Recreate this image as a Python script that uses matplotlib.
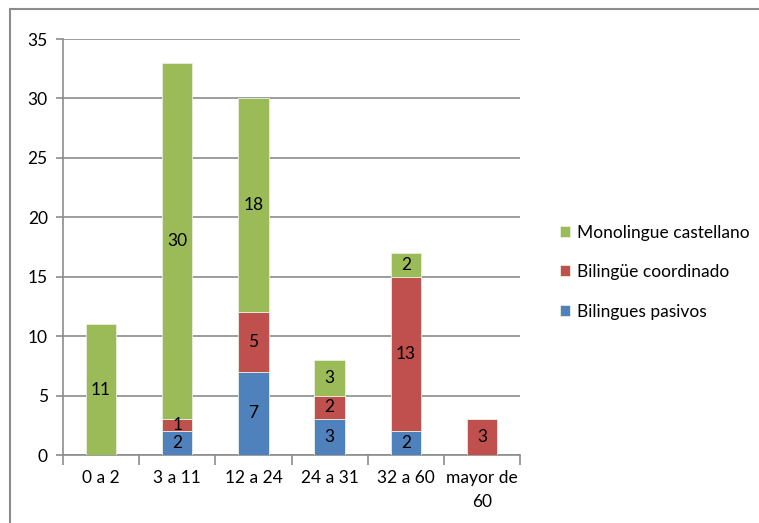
import numpy as np
import matplotlib as mpl
mpl.use('Agg')
from matplotlib import pyplot as plt
from matplotlib.patches import Rectangle

categories = ["0 a 2", "3 a 11", "12 a 24", "24 a 31", "32 a 60", "mayor de\n60"]
pasivos = [0, 2, 7, 3, 2, 0]
coordinado = [0, 1, 5, 2, 13, 3]
monolingue = [11, 30, 18, 3, 2, 0]

names = ["Bilingues pasivos", "Bilingüe coordinado", "Monolingue castellano"]
colors = ["#4F81BD", "#C0504D", "#9BBB59"]

plt.rcParams['font.family'] = ['Lato', 'DejaVu Sans']
W, H = 759, 523
fs = 12.5
fig = plt.figure(figsize=(W / 100, H / 100), dpi=100)
fig.patches.append(Rectangle((10 / W, -0.01), 1.0, 1 - 9 / H + 0.01,
                             transform=fig.transFigure, fill=False,
                             edgecolor="#8c8c8c", linewidth=1.5))

ax = fig.add_axes([63 / W, 1 - 455 / H, (520 - 63) / W, (455 - 39) / H])
x = np.arange(len(categories))
bottom = np.zeros(len(categories))
handles = []
for vals, name, col in zip([pasivos, coordinado, monolingue], names, colors):
    vals = np.array(vals, dtype=float)
    bars = ax.bar(x, vals, 0.4, bottom=bottom, color=col, edgecolor="#e8eedf",
                  linewidth=0.6, label=name, zorder=3)
    handles.append(bars)
    for xi, b, v in zip(x, bottom, vals):
        if v > 0:
            ax.text(xi, b + v / 2, "%d" % v, ha="center", va="center",
                    fontsize=fs, color="black", zorder=4)
    bottom += vals

ax.set_xlim(-0.5, len(categories) - 0.5)
ax.set_ylim(0, 35)
ax.set_yticks(np.arange(0, 36, 5))
ax.set_xticks(np.arange(-0.5, len(categories), 1.0), minor=False)
ax.set_xticklabels([])
ax.set_xticks(x, minor=True)
ax.set_xticklabels(categories, minor=True, linespacing=1.6)
ax.tick_params(axis='x', which='minor', length=0, pad=11, labelsize=fs)
ax.tick_params(axis='x', which='major', length=7, color="#8c8c8c", width=1.2)
ax.tick_params(axis='y', length=5, color="#8c8c8c", width=1.2, labelsize=fs, pad=6)
ax.grid(axis='y', color="#8c8c8c", linewidth=1.2, zorder=0)
for s in ['top', 'right']:
    ax.spines[s].set_visible(False)
for s in ['left', 'bottom']:
    ax.spines[s].set_color("#8c8c8c")
    ax.spines[s].set_linewidth(1.2)

fig.legend(handles[::-1], names[::-1], loc="upper left",
           bbox_to_anchor=(544 / W, 1 - 209 / H), frameon=False,
           fontsize=fs, handlelength=0.6, handleheight=0.6,
           handletextpad=0.4, labelspacing=1.35)

fig.savefig("out.png", dpi=100)
